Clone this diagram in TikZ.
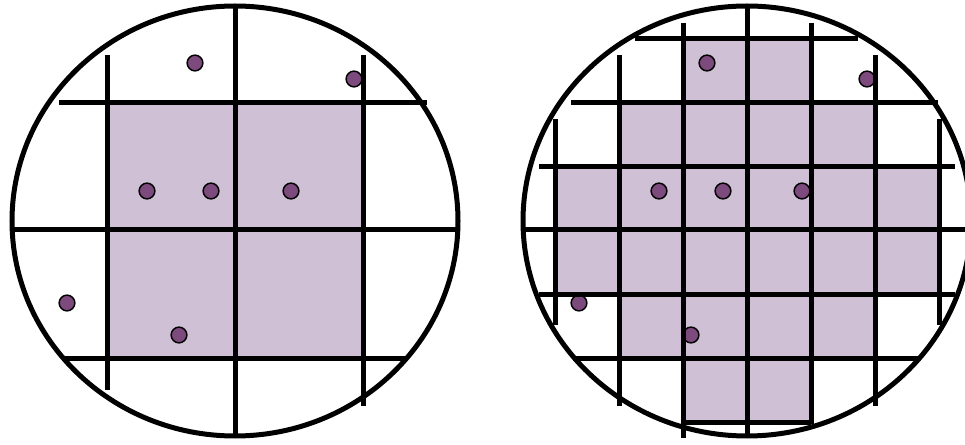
\documentclass[tikz,border=0pt]{standalone}
\usepackage{xcolor}
\usepackage{tikz}

\definecolor{diefill}{RGB}{207,192,214}
\definecolor{defectfill}{RGB}{124,74,125}

\begin{document}
\begin{tikzpicture}[x=0.75pt, y=-0.75pt,
  wafer/.style={draw=black, line width=3.75pt},
  cut/.style={draw=black, line width=3.75pt},
  die/.style={fill=diefill},
  defect/.style={draw=black, fill=defectfill, line width=1.1pt},
]
  \useasboundingbox (0,0) rectangle (965,445);
  \clip (0,0) rectangle (965,445);

  % Left wafer: large dies
  \fill[die] (107,103) rectangle (363,359);

  \foreach \dx/\dy in {-40/63, 119/79, -88/191, -24/191, 56/191, -168/303, -56/335}
    \draw[defect] (235+\dx,\dy) circle[radius=5.9pt];

  \draw[cut] (107,55) -- (107,390);
  \draw[cut] (235,7) -- (235,436);
  \draw[cut] (363,55) -- (363,406);
  \draw[cut] (59,103) -- (427,103);
  \draw[cut] (12,230) -- (458,230);
  \draw[cut] (62,359) -- (408,359);

  \draw[wafer] (235,221) ellipse[x radius=167.25pt, y radius=161.25pt];

  % Right wafer: small dies
  \fill[die] (683,39) rectangle (811,103);
  \fill[die] (619,103) rectangle (875,167);
  \fill[die] (555,167) rectangle (939,295);
  \fill[die] (619,295) rectangle (875,359);
  \fill[die] (683,359) rectangle (811,423);

  \foreach \dx/\dy in {-40/63, 120/79, -88/191, -24/191, 55/191, -168/303, -56/335}
    \draw[defect] (747+\dx,\dy) circle[radius=5.9pt];

  \draw[cut] (555,119) -- (555,325);
  \draw[cut] (619,55) -- (619,406);
  \draw[cut] (683,23) -- (683,438);
  \draw[cut] (747,7) -- (747,436);
  \draw[cut] (811,23) -- (811,424);
  \draw[cut] (875,55) -- (875,406);
  \draw[cut] (939,119) -- (939,325);

  \draw[cut] (635,39) -- (858,39);
  \draw[cut] (571,103) -- (938,103);
  \draw[cut] (539,167) -- (955,167);
  \draw[cut] (525,230) -- (970,230);
  \draw[cut] (539,295) -- (955,295);
  \draw[cut] (573,359) -- (920,359);
  \draw[cut] (683,423) -- (811,423);

  \draw[wafer] (747,221) ellipse[x radius=168pt, y radius=161.25pt];
\end{tikzpicture}
\end{document}
